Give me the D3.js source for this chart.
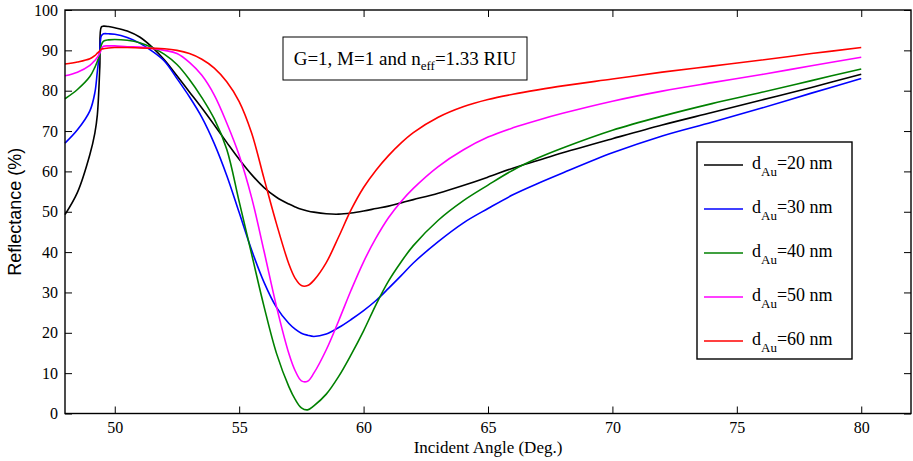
<!doctype html>
<meta charset="utf-8">
<script src="https://d3js.org/d3.v7.min.js"></script>
<style>
  body { margin: 0; background: #fff; }
  text { font-family: "Liberation Serif", "Times New Roman", serif; }
</style>
<body></body>
<script>

// incident angle (deg) shared by all curves
var angles = [48, 48.5, 49, 49.2, 49.3, 49.4, 49.46, 49.55, 49.75, 50,
    50.5, 51, 51.5, 52, 52.5, 53, 53.5, 54, 54.5, 55,
    55.5, 56, 56.5, 57, 57.25, 57.5, 57.75, 58, 58.5, 59,
    59.5, 60, 60.5, 61, 61.5, 62, 63, 64, 65, 66,
    67, 68, 70, 72, 74, 76, 78, 80];

// reflectance (%) for each gold thickness
var r20 = [49.3, 54.8, 64.2, 69.5, 74.0, 86.0, 95.8, 96.0, 95.9, 95.6,
    94.8, 93.3, 90.8, 87.6, 83.7, 79.7, 75.7, 71.5, 67.2, 63.0,
    59.2, 56.0, 53.6, 51.9, 51.2, 50.6, 50.2, 49.9, 49.5, 49.4,
    49.7, 50.2, 50.8, 51.4, 52.2, 53.0, 54.6, 56.5, 58.6, 60.8,
    62.7, 64.6, 68.1, 71.5, 74.6, 77.7, 80.8, 84.1];
var r30 = [67.0, 70.3, 75.0, 79.5, 84.8, 90.2, 93.6, 94.1, 94.1, 94.0,
    93.2, 91.8, 89.8, 87.3, 83.0, 78.5, 73.4, 66.9, 59.0, 49.8,
    40.5, 32.5, 26.3, 22.3, 20.9, 19.9, 19.4, 19.1, 19.7, 21.3,
    23.3, 25.5, 28.0, 31.0, 34.1, 37.3, 42.6, 47.2, 50.8, 54.2,
    57.0, 59.6, 64.6, 68.8, 72.2, 75.7, 79.4, 83.0];
var r40 = [78.0, 80.3, 83.5, 85.8, 87.3, 89.0, 91.3, 92.3, 92.6, 92.7,
    92.5, 91.9, 90.7, 89.0, 86.5, 82.8, 78.3, 73.0, 65.5, 52.5,
    39.5, 26.5, 14.9, 6.6, 3.5, 1.4, 0.9, 1.9, 4.8, 9.2,
    14.6, 20.5, 27.0, 32.8, 37.5, 41.6, 47.9, 52.7, 56.6, 60.3,
    63.3, 65.8, 70.2, 73.7, 76.8, 79.6, 82.5, 85.4];
var r50 = [83.7, 84.6, 86.3, 87.5, 88.3, 89.3, 90.3, 91.0, 91.1, 91.1,
    90.9, 90.8, 90.5, 90.0, 89.2, 87.0, 83.8, 78.9, 72.0, 64.0,
    53.5, 40.2, 26.5, 14.8, 10.6, 8.1, 8.0, 10.0, 15.8, 23.0,
    30.6, 37.6, 43.5, 48.5, 52.5, 55.8, 61.2, 65.3, 68.5, 70.8,
    72.7, 74.4, 77.4, 79.9, 82.0, 84.0, 86.2, 88.3];
var r60 = [86.6, 87.1, 87.9, 88.7, 89.3, 89.9, 90.3, 90.4, 90.6, 90.7,
    90.7, 90.6, 90.5, 90.4, 90.0, 89.2, 87.8, 85.6, 82.2, 77.3,
    69.5, 58.2, 47.0, 37.0, 33.5, 31.7, 31.7, 33.0, 37.4, 43.8,
    50.5, 56.0, 60.3, 63.9, 67.0, 69.6, 73.4, 76.0, 77.8, 79.1,
    80.2, 81.2, 82.9, 84.6, 86.1, 87.6, 89.2, 90.7];

var thickness = ["20", "30", "40", "50", "60"];
var colors = ["#000000", "#0000ff", "#008000", "#ff00ff", "#ff0000"];
var xTicks = [50, 55, 60, 65, 70, 75, 80];
var yTicks = [0, 10, 20, 30, 40, 50, 60, 70, 80, 90, 100];

var width = 913;
var height = 461;
var plotL = 65, plotR = 911, plotT = 10, plotB = 413.5;

var svg = d3.select("body")
        .append("svg")
        .attr("width", width)
        .attr("height", height);

var x = d3.scaleLinear().domain([48, 82]).range([plotL, plotR]);
var y = d3.scaleLinear().domain([0, 100]).range([plotB, plotT]);

// curves
var line = d3.line()
        .x(function(d) { return x(d[0]); })
        .y(function(d) { return y(d[1]); })
        .curve(d3.curveCatmullRom.alpha(0.5));

var series = [r20, r30, r40, r50, r60];
series.forEach(function(vals, i) {
    svg.append("path")
            .attr("d", line(angles.map(function(a, j) { return [a, vals[j]]; })))
            .style("fill", "none")
            .style("stroke", colors[i])
            .style("stroke-width", 1.6);
});

// axes, ticks inside like matlab
var tl = 7;
svg.append("g")
        .attr("transform", "translate(0," + plotB + ")")
        .call(d3.axisBottom(x).tickValues(xTicks).tickSizeInner(-tl).tickSizeOuter(0).tickPadding(8))
        .call(function(g) { g.select(".domain").remove(); });
svg.append("g")
        .attr("transform", "translate(0," + plotT + ")")
        .call(d3.axisTop(x).tickValues(xTicks).tickSizeInner(-tl).tickSizeOuter(0).tickFormat(""))
        .call(function(g) { g.select(".domain").remove(); });
svg.append("g")
        .attr("transform", "translate(" + plotL + ",0)")
        .call(d3.axisLeft(y).tickValues(yTicks).tickSizeInner(-tl).tickSizeOuter(0).tickPadding(7))
        .call(function(g) { g.select(".domain").remove(); });
svg.append("g")
        .attr("transform", "translate(" + plotR + ",0)")
        .call(d3.axisRight(y).tickValues(yTicks).tickSizeInner(-tl).tickSizeOuter(0).tickFormat(""))
        .call(function(g) { g.select(".domain").remove(); });

svg.selectAll(".tick line").style("stroke", "#000").style("stroke-width", 1);
svg.selectAll(".tick text")
        .style("font-family", "Liberation Serif")
        .style("font-size", "16px")
        .style("fill", "#000");

svg.append("rect")
        .attr("x", plotL)
        .attr("y", plotT)
        .attr("width", plotR - plotL)
        .attr("height", plotB - plotT)
        .style("fill", "none")
        .style("stroke", "#000")
        .style("stroke-width", 1.4);

// axis titles
svg.append("text")
        .attr("x", (plotL + plotR) / 2)
        .attr("y", 453)
        .attr("text-anchor", "middle")
        .style("font-size", "17px")
        .text("Incident Angle (Deg.)");

svg.append("text")
        .attr("transform", "translate(21," + ((plotT + plotB) / 2) + ") rotate(-90)")
        .attr("text-anchor", "middle")
        .style("font-family", "Liberation Sans, Arial, sans-serif")
        .style("font-size", "18px")
        .text("Reflectance (%)");

// parameter box
svg.append("rect")
        .attr("x", 283).attr("y", 37)
        .attr("width", 244).attr("height", 43)
        .style("fill", "#fff")
        .style("stroke", "#000")
        .style("stroke-width", 1);
var note = svg.append("text")
        .attr("x", 405)
        .attr("y", 65)
        .attr("text-anchor", "middle")
        .style("font-size", "19px");
note.append("tspan").text("G=1, M=1 and n");
note.append("tspan").attr("dy", 5).style("font-size", "13px").text("eff");
note.append("tspan").attr("dy", -5).text("=1.33 RIU");

// legend
svg.append("rect")
        .attr("x", 697).attr("y", 142)
        .attr("width", 155).attr("height", 217)
        .style("fill", "#fff")
        .style("stroke", "#000")
        .style("stroke-width", 1.4);

thickness.forEach(function(t, i) {
    var ly = 165 + i * 44;
    svg.append("line")
            .attr("x1", 704).attr("x2", 743)
            .attr("y1", ly).attr("y2", ly)
            .style("stroke", colors[i])
            .style("stroke-width", 1.6);
    var lt = svg.append("text")
            .attr("x", 752)
            .attr("y", ly + 4)
            .style("font-size", "18px");
    lt.append("tspan").text("d");
    lt.append("tspan").attr("dy", 7).style("font-size", "13px").text("Au");
    lt.append("tspan").attr("dy", -7).text("=" + t + " nm");
});

</script>
